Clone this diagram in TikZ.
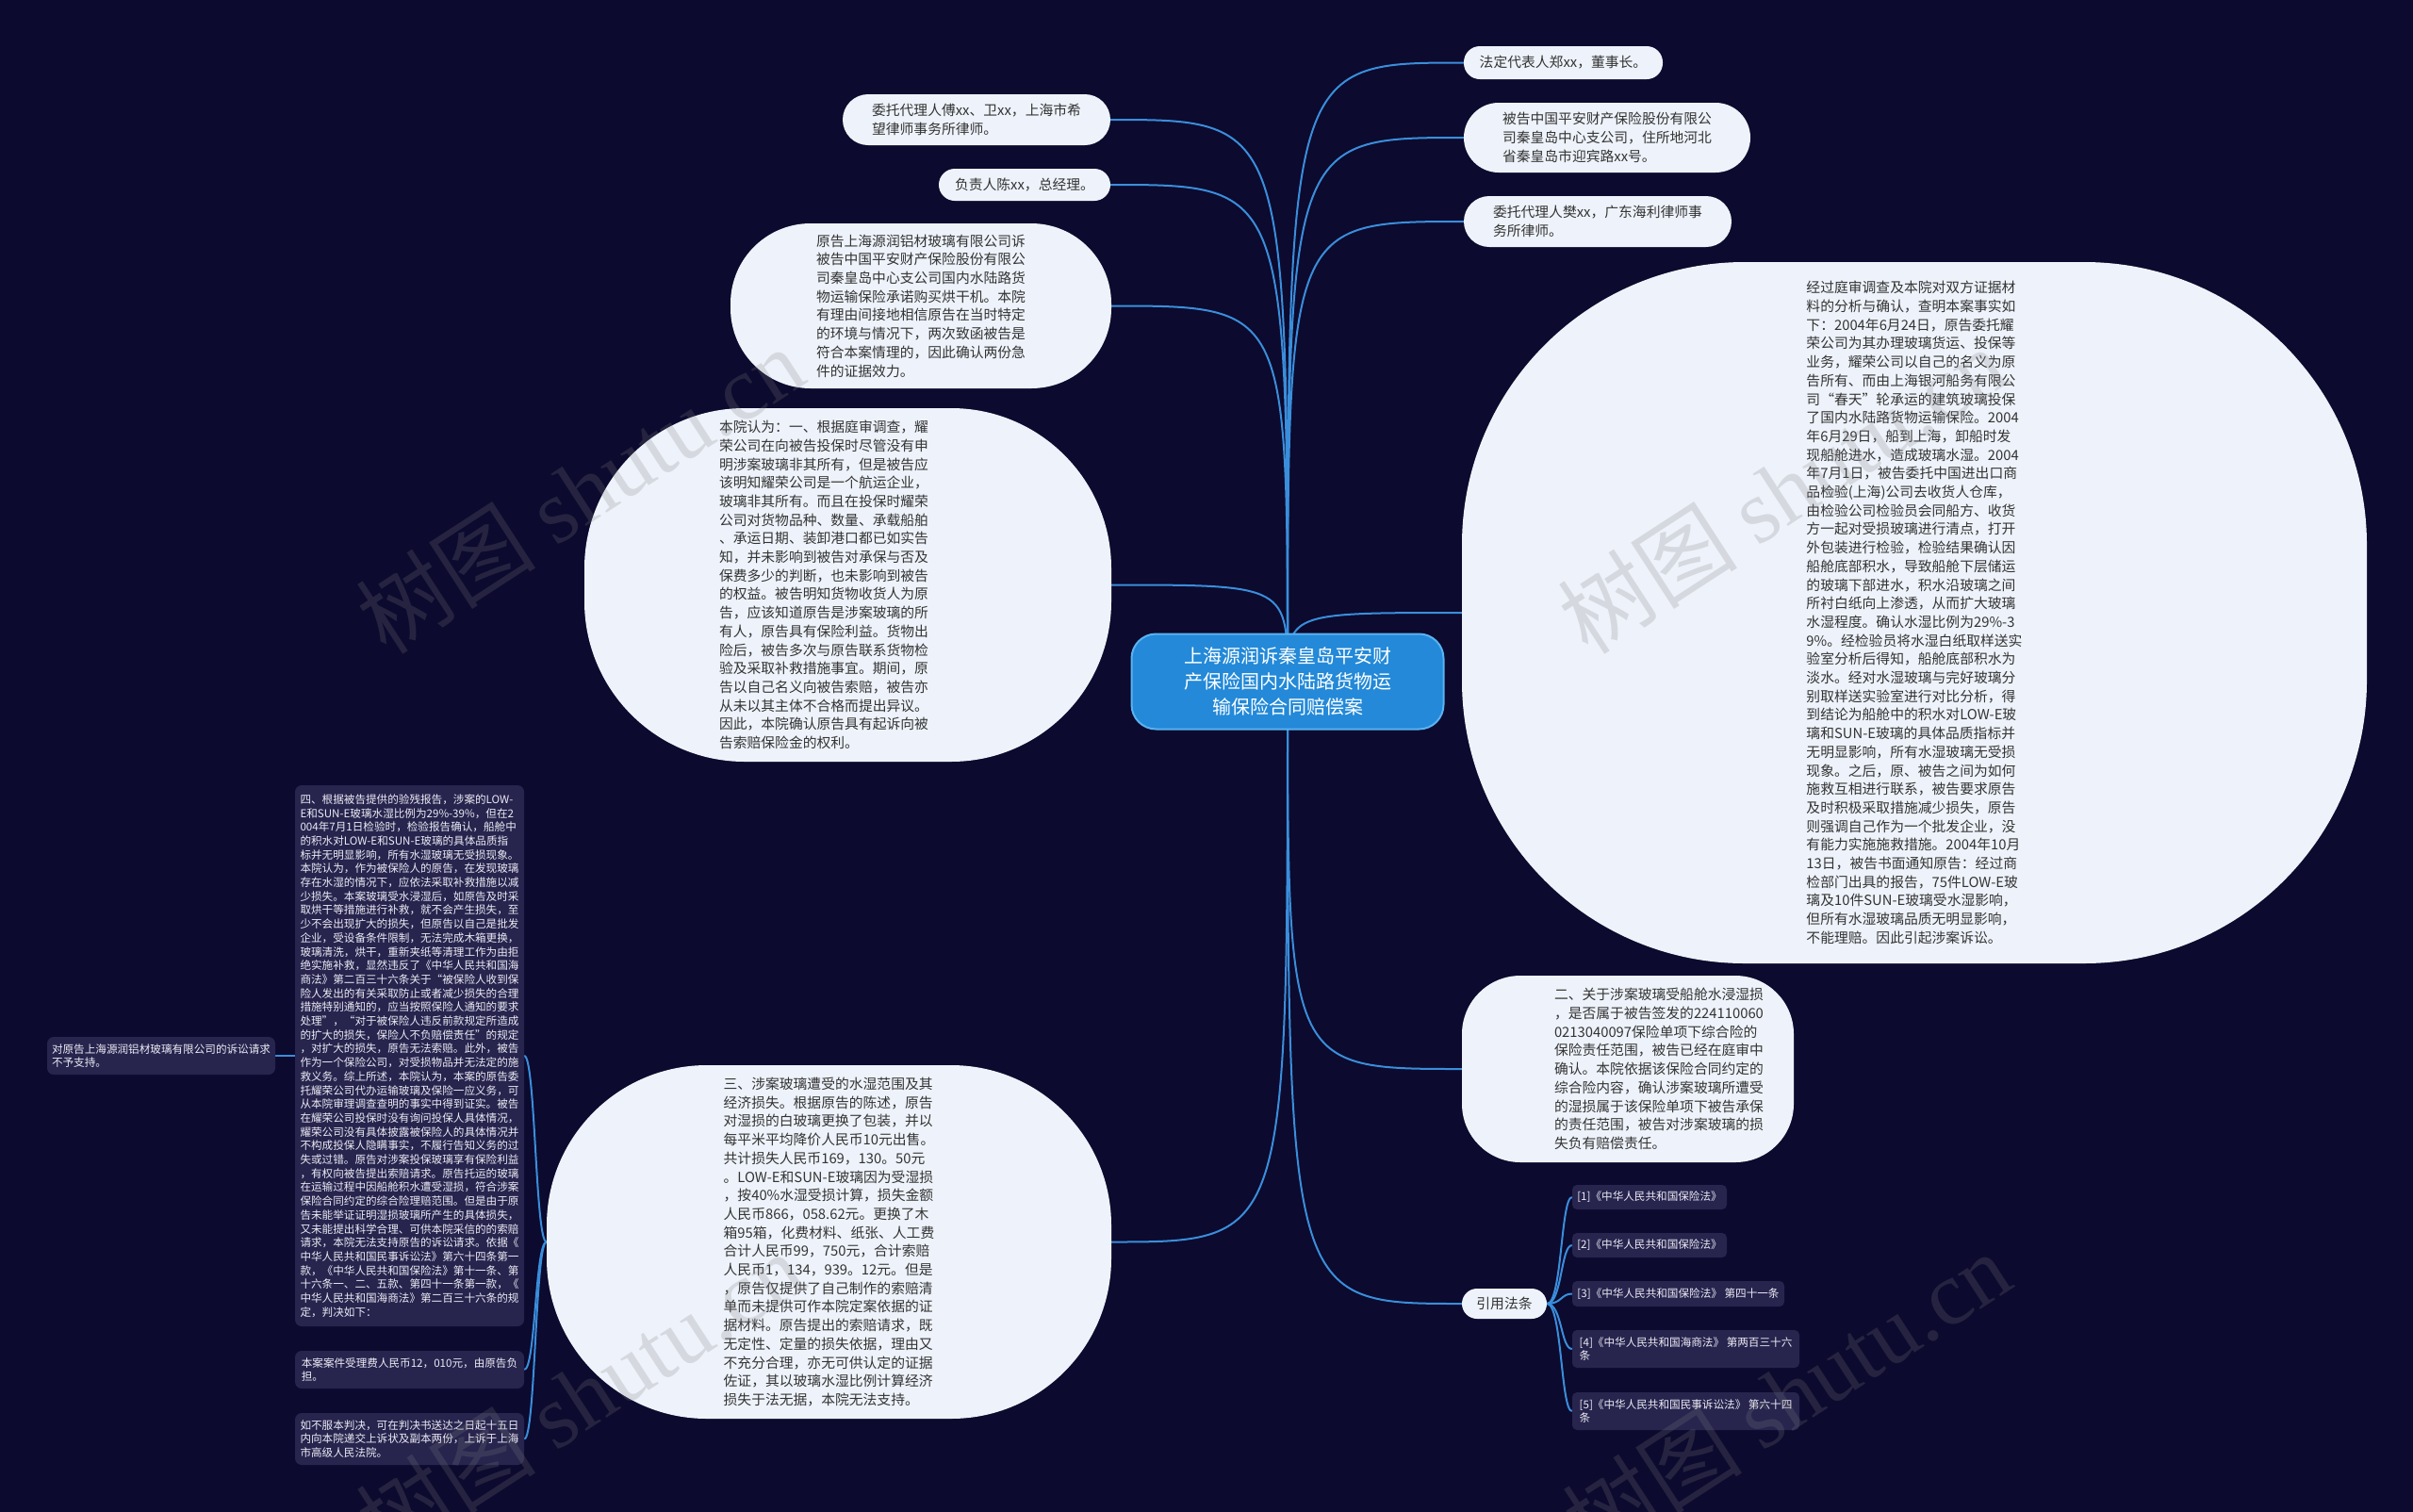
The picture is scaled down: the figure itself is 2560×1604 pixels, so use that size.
\documentclass[tikz,border=0pt]{standalone}
\usepackage{fontspec}
\setmainfont{Noto Sans CJK SC}
\newfontfamily\wmserif{Liberation Serif}
\usetikzlibrary{backgrounds}
\definecolor{bgc}{HTML}{0C0A2E}
\definecolor{lightfill}{HTML}{EEF3FB}
\definecolor{darkfill}{HTML}{27244E}
\definecolor{linec}{HTML}{3A8EDB}
\definecolor{centerfill}{HTML}{2389D8}
\definecolor{centerdraw}{HTML}{5AB2F2}
\definecolor{txtdark}{HTML}{333333}
\definecolor{txtlight}{HTML}{ECECF4}
\tikzset{
  lighttext/.style={text=txtdark, align=left, inner sep=0pt,
    font=\fontsize{14.8pt}{19.7pt}\selectfont},
  lightnode/.style={lighttext, fill=lightfill},
  darknode/.style={fill=darkfill, text=txtlight, align=left, inner sep=0pt,
    rounded corners=7pt, font=\fontsize{11.6pt}{14.7pt}\selectfont},
  centernode/.style={fill=centerfill, draw=centerdraw, line width=2pt, text=white,
    align=center, inner sep=0pt, rounded corners=26pt,
    font=\fontsize{20pt}{27pt}\selectfont},
  conn/.style={draw=linec, line width=2pt},
  wmark/.style={text=gray, opacity=0.22, rotate=33, inner sep=0pt,
    font=\fontsize{96pt}{96pt}\selectfont}
}
\begin{document}
\begin{tikzpicture}[x=1pt,y=-1pt]
\path[use as bounding box] (0,0) rectangle (2560,1604);

% center
\node[centernode, minimum width=331pt, minimum height=101pt] (c) at (1366,723)
  {上海源润诉秦皇岛平安财\\产保险国内水陆路货物运\\输保险合同赔偿案};

% right side
\node[lightnode, rounded corners=17pt, minimum width=211pt, minimum height=35pt] (n1) at (1658.5,66.5)
  {法定代表人郑xx，董事长。};
\node[lightnode, rounded corners=37pt, minimum width=304pt, minimum height=74pt] (n2) at (1705,146)
  {被告中国平安财产保险股份有限公\\司秦皇岛中心支公司，住所地河北\\省秦皇岛市迎宾路xx号。};
\node[lightnode, rounded corners=27pt, minimum width=284pt, minimum height=54pt] (n3) at (1695,235)
  {委托代理人樊xx，广东海利律师事\\务所律师。};
\node[lightnode, rounded corners=300pt, minimum width=960pt, minimum height=744pt] (n4) at (2031,650)
  {经过庭审调查及本院对双方证据材\\料的分析与确认，查明本案事实如\\下：2004年6月24日，原告委托耀\\荣公司为其办理玻璃货运、投保等\\业务，耀荣公司以自己的名义为原\\告所有、而由上海银河船务有限公\\司“春天”轮承运的建筑玻璃投保\\了国内水陆路货物运输保险。2004\\年6月29日，船到上海，卸船时发\\现船舱进水，造成玻璃水湿。2004\\年7月1日，被告委托中国进出口商\\品检验(上海)公司去收货人仓库，\\由检验公司检验员会同船方、收货\\方一起对受损玻璃进行清点，打开\\外包装进行检验，检验结果确认因\\船舱底部积水，导致船舱下层储运\\的玻璃下部进水，积水沿玻璃之间\\所衬白纸向上渗透，从而扩大玻璃\\水湿程度。确认水湿比例为29\%-3\\9\%。经检验员将水湿白纸取样送实\\验室分析后得知，船舱底部积水为\\淡水。经对水湿玻璃与完好玻璃分\\别取样送实验室进行对比分析，得\\到结论为船舱中的积水对LOW-E玻\\璃和SUN-E玻璃的具体品质指标并\\无明显影响，所有水湿玻璃无受损\\现象。之后，原、被告之间为如何\\施救互相进行联系，被告要求原告\\及时积极采取措施减少损失，原告\\则强调自己作为一个批发企业，没\\有能力实施施救措施。2004年10月\\13日，被告书面通知原告：经过商\\检部门出具的报告，75件LOW-E玻\\璃及10件SUN-E玻璃受水湿影响，\\但所有水湿玻璃品质无明显影响，\\不能理赔。因此引起涉案诉讼。};
\node[lightnode, rounded corners=62pt, minimum width=352pt, minimum height=198pt] (n5) at (1727,1134) {};
\node[lighttext] (n5t) at (1760,1134)
  {二、关于涉案玻璃受船舱水浸湿损\\，是否属于被告签发的224110060\\0213040097保险单项下综合险的\\保险责任范围，被告已经在庭审中\\确认。本院依据该保险合同约定的\\综合险内容，确认涉案玻璃所遭受\\的湿损属于该保险单项下被告承保\\的责任范围，被告对涉案玻璃的损\\失负有赔偿责任。};
\node[lightnode, rounded corners=16pt, minimum width=90pt, minimum height=32pt] (n6) at (1596,1383)
  {引用法条};

% references
\node[darknode, rounded corners=5pt, minimum width=164pt, minimum height=26pt] (r1) at (1750,1270)
  {[1]《中华人民共和国保险法》};
\node[darknode, rounded corners=5pt, minimum width=164pt, minimum height=26pt] (r2) at (1750,1321)
  {[2]《中华人民共和国保险法》};
\node[darknode, rounded corners=5pt, minimum width=225pt, minimum height=27pt] (r3) at (1780.5,1372.5)
  {[3]《中华人民共和国保险法》 第四十一条};
\node[darknode, rounded corners=5pt, minimum width=241pt, minimum height=40pt] (r4) at (1788.5,1431)
  {[4]《中华人民共和国海商法》 第两百三十六\\条};
\node[darknode, rounded corners=5pt, minimum width=241pt, minimum height=40pt] (r5) at (1788.5,1497)
  {[5]《中华人民共和国民事诉讼法》 第六十四\\条};

% left side
\node[lightnode, rounded corners=27pt, minimum width=284pt, minimum height=54pt] (l1) at (1036,127)
  {委托代理人傅xx、卫xx，上海市希\\望律师事务所律师。};
\node[lightnode, rounded corners=17pt, minimum width=182pt, minimum height=34pt] (l2) at (1087,196)
  {负责人陈xx，总经理。};
\node[lightnode, rounded corners=85pt, minimum width=404pt, minimum height=175pt] (l3) at (977,324.5)
  {原告上海源润铝材玻璃有限公司诉\\被告中国平安财产保险股份有限公\\司秦皇岛中心支公司国内水陆路货\\物运输保险承诺购买烘干机。本院\\有理由间接地相信原告在当时特定\\的环境与情况下，两次致函被告是\\符合本案情理的，因此确认两份急\\件的证据效力。};
\node[lightnode, rounded corners=170pt, minimum width=559pt, minimum height=375pt] (l4) at (899.5,620.5) {};
\node[lighttext] (l4t) at (874,620.5)
  {本院认为：一、根据庭审调查，耀\\荣公司在向被告投保时尽管没有申\\明涉案玻璃非其所有，但是被告应\\该明知耀荣公司是一个航运企业，\\玻璃非其所有。而且在投保时耀荣\\公司对货物品种、数量、承载船舶\\、承运日期、装卸港口都已如实告\\知，并未影响到被告对承保与否及\\保费多少的判断，也未影响到被告\\的权益。被告明知货物收货人为原\\告，应该知道原告是涉案玻璃的所\\有人，原告具有保险利益。货物出\\险后，被告多次与原告联系货物检\\验及采取补救措施事宜。期间，原\\告以自己名义向被告索赔，被告亦\\从未以其主体不合格而提出异议。\\因此，本院确认原告具有起诉向被\\告索赔保险金的权利。};
\node[lightnode, rounded corners=170pt, minimum width=599pt, minimum height=375pt] (l5) at (879.5,1317.5)
  {三、涉案玻璃遭受的水湿范围及其\\经济损失。根据原告的陈述，原告\\对湿损的白玻璃更换了包装，并以\\每平米平均降价人民币10元出售。\\共计损失人民币169，130。50元\\。LOW-E和SUN-E玻璃因为受湿损\\，按40\%水湿受损计算，损失金额\\人民币866，058.62元。更换了木\\箱95箱，化费材料、纸张、人工费\\合计人民币99，750元，合计索赔\\人民币1，134，939。12元。但是\\，原告仅提供了自己制作的索赔清\\单而未提供可作本院定案依据的证\\据材料。原告提出的索赔请求，既\\无定性、定量的损失依据，理由又\\不充分合理，亦无可供认定的证据\\佐证，其以玻璃水湿比例计算经济\\损失于法无据，本院无法支持。};

% dark boxes on the left
\node[darknode, minimum width=243pt, minimum height=574pt] (d4) at (434.5,1120)
  {四、根据被告提供的验残报告，涉案的LOW-\\E和SUN-E玻璃水湿比例为29\%-39\%，但在2\\004年7月1日检验时，检验报告确认，船舱中\\的积水对LOW-E和SUN-E玻璃的具体品质指\\标并无明显影响，所有水湿玻璃无受损现象。\\本院认为，作为被保险人的原告，在发现玻璃\\存在水湿的情况下，应依法采取补救措施以减\\少损失。本案玻璃受水浸湿后，如原告及时采\\取烘干等措施进行补救，就不会产生损失，至\\少不会出现扩大的损失，但原告以自己是批发\\企业，受设备条件限制，无法完成木箱更换，\\玻璃清洗，烘干，重新夹纸等清理工作为由拒\\绝实施补救，显然违反了《中华人民共和国海\\商法》第二百三十六条关于“被保险人收到保\\险人发出的有关采取防止或者减少损失的合理\\措施特别通知的，应当按照保险人通知的要求\\处理”，“对于被保险人违反前款规定所造成\\的扩大的损失，保险人不负赔偿责任”的规定\\，对扩大的损失，原告无法索赔。此外，被告\\作为一个保险公司，对受损物品并无法定的施\\救义务。综上所述，本院认为，本案的原告委\\托耀荣公司代办运输玻璃及保险一应义务，可\\从本院审理调查查明的事实中得到证实。被告\\在耀荣公司投保时没有询问投保人具体情况，\\耀荣公司没有具体披露被保险人的具体情况并\\不构成投保人隐瞒事实，不履行告知义务的过\\失或过错。原告对涉案投保玻璃享有保险利益\\，有权向被告提出索赔请求。原告托运的玻璃\\在运输过程中因船舱积水遭受湿损，符合涉案\\保险合同约定的综合险理赔范围。但是由于原\\告未能举证证明湿损玻璃所产生的具体损失，\\又未能提出科学合理、可供本院采信的的索赔\\请求，本院无法支持原告的诉讼请求。依据《\\中华人民共和国民事诉讼法》第六十四条第一\\款，《中华人民共和国保险法》第十一条、第\\十六条一、二、五款、第四十一条第一款，《\\中华人民共和国海商法》第二百三十六条的规\\定，判决如下：};
\node[darknode, minimum width=243pt, minimum height=40pt] (d5) at (434.5,1453)
  {本案案件受理费人民币12，010元，由原告负\\担。};
\node[darknode, minimum width=243pt, minimum height=55pt] (d6) at (434.5,1526.5)
  {如不服本判决，可在判决书送达之日起十五日\\内向本院递交上诉状及副本两份，上诉于上海\\市高级人民法院。};
\node[darknode, minimum width=242pt, minimum height=40pt] (d7) at (171,1120)
  {对原告上海源润铝材玻璃有限公司的诉讼请求\\不予支持。};

% connectors
\begin{pgfonlayer}{background}
\fill[bgc] (0,0) rectangle (2560,1604);
\foreach \t in {n1,n2,n3,n4,n5,n6}
  \draw[conn] (c.center) .. controls (c.center |- \t.west) .. (\t.west);
\foreach \t in {l1,l2,l3,l4,l5}
  \draw[conn] (c.center) .. controls (c.center |- \t.east) .. (\t.east);
\foreach \t in {r1,r2,r3,r4,r5}
  \draw[conn] (n6.east) .. controls +(16,0) and +(-12,0) .. (\t.west);
\foreach \t in {d4,d5,d6}
  \draw[conn] (l5.west) .. controls +(-12,0) and +(12,0) .. (\t.east);
\draw[conn] (d4.west) -- (d7.east);
\end{pgfonlayer}

% watermarks
\node[wmark] (wm1) at (615,520) {树图 {\wmserif shutu.cn}};
\node[wmark] (wm2) at (1890,520) {树图 {\wmserif shutu.cn}};
\node[wmark] (wm3) at (1895,1480) {树图 {\wmserif shutu.cn}};
\node[wmark] (wm4) at (615,1480) {树图 {\wmserif shutu.cn}};
\end{tikzpicture}
\end{document}
